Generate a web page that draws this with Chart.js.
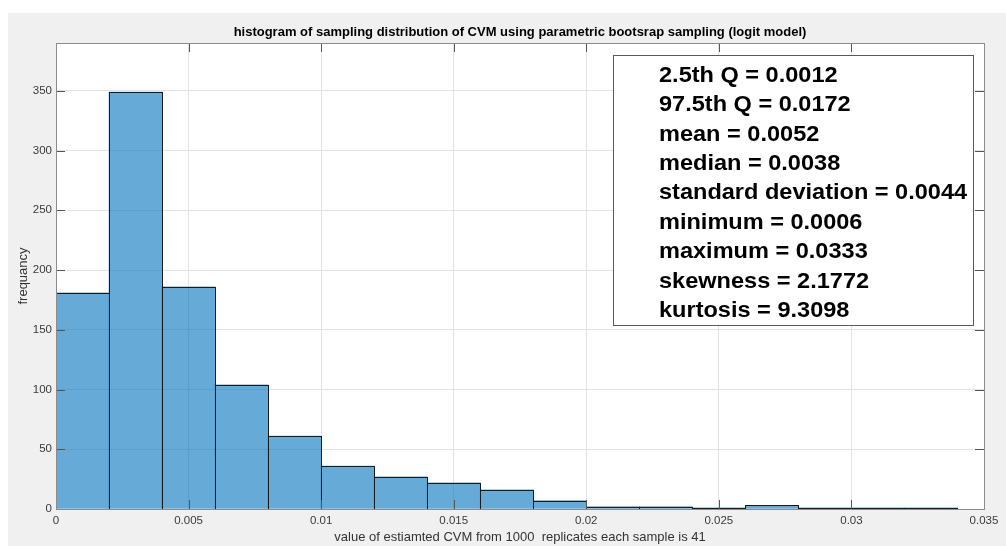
<!DOCTYPE html>
<html>
<head>
<meta charset="utf-8">
<script src="https://cdn.jsdelivr.net/npm/chart.js@4.4.1/dist/chart.umd.min.js"></script>
<style>
  html, body { margin: 0; padding: 0; background: #fff; }
  #wrap { width: 1006px; height: 546px; }
</style>
</head>
<body>
<div id="wrap"><canvas id="hist" width="1006" height="546"></canvas></div>
<script>
// histogram bins (width 0.002) and counts
const binCenters = [0.001, 0.003, 0.005, 0.007, 0.009, 0.011, 0.013, 0.015, 0.017,
                    0.019, 0.021, 0.023, 0.025, 0.027, 0.029, 0.031, 0.033];
const counts = [181, 349, 186, 104, 61, 36, 27, 22, 16, 7, 2, 2, 1, 3, 1, 1, 1];

const xTicks = [0, 0.005, 0.01, 0.015, 0.02, 0.025, 0.03, 0.035];
const xTickLabels = ['0', '0.005', '0.01', '0.015', '0.02', '0.025', '0.03', '0.035'];
const yTicks = [0, 50, 100, 150, 200, 250, 300, 350];

const statLines = [
  '2.5th Q = 0.0012',
  '97.5th Q = 0.0172',
  'mean = 0.0052',
  'median = 0.0038',
  'standard deviation = 0.0044',
  'minimum = 0.0006',
  'maximum = 0.0333',
  'skewness = 2.1772',
  'kurtosis = 9.3098'
];

const FONT = "'Liberation Sans', Arial, Helvetica, sans-serif";

// grey figure background, matlab style box with inward ticks, and the stats text box
const matlabAxes = {
  id: 'matlabAxes',
  beforeDraw(chart) {
    const ctx = chart.ctx;
    ctx.save();
    ctx.fillStyle = '#ffffff';
    ctx.fillRect(0, 0, chart.width, chart.height);
    ctx.fillStyle = '#f0f0f0';
    ctx.fillRect(8, 13, chart.width - 8, chart.height - 13);
    const a = chart.chartArea;
    ctx.fillStyle = '#ffffff';
    ctx.fillRect(a.left, a.top, a.right - a.left, a.bottom - a.top);
    ctx.restore();
  },
  afterDatasetsDraw(chart) {
    const ctx = chart.ctx;
    const a = chart.chartArea;
    const xs = chart.scales.x, ys = chart.scales.y;
    ctx.save();
    ctx.lineWidth = 1;

    // bar edges: chart.js shrinks borders on very short bars, so outline them here
    ctx.strokeStyle = '#1a1a1a';
    chart.getDatasetMeta(0).data.forEach(bar => {
      const l = Math.round(bar.x - bar.width / 2);
      const r = Math.round(bar.x + bar.width / 2);
      const t = Math.round(bar.y);
      const b = Math.round(bar.base);
      ctx.strokeRect(l + 0.5, t + 0.5, r - l, Math.max(b - t, 1));
    });

    ctx.strokeStyle = '#555555';
    ctx.beginPath();
    xTicks.forEach(v => {
      const px = Math.round(xs.getPixelForValue(v)) + 0.5;
      ctx.moveTo(px, a.bottom); ctx.lineTo(px, a.bottom - 9);
      ctx.moveTo(px, a.top); ctx.lineTo(px, a.top + 9);
    });
    yTicks.forEach(v => {
      const py = Math.round(ys.getPixelForValue(v)) + 0.5;
      ctx.moveTo(a.left, py); ctx.lineTo(a.left + 9, py);
      ctx.moveTo(a.right, py); ctx.lineTo(a.right - 9, py);
    });
    ctx.stroke();
    ctx.strokeStyle = '#8c8c8c';
    ctx.strokeRect(Math.round(a.left) + 0.5, Math.round(a.top) + 0.5,
                   Math.round(a.right - a.left), Math.round(a.bottom - a.top));

    // stats annotation box (text is a bit wider than normal in the original)
    const bx = 613, by = 55, bw = 360, bh = 270;
    ctx.fillStyle = '#ffffff';
    ctx.fillRect(bx, by, bw, bh);
    ctx.strokeStyle = '#5a5a5a';
    ctx.strokeRect(bx + 0.5, by + 0.5, bw, bh);
    ctx.fillStyle = '#000000';
    ctx.font = 'bold 22px ' + FONT;
    ctx.textBaseline = 'alphabetic';
    ctx.textAlign = 'left';
    statLines.forEach((t, i) => {
      ctx.save();
      ctx.translate(659, 81.7 + i * 29.4);
      ctx.scale(1.07, 1);
      ctx.fillText(t, 0, 0);
      ctx.restore();
    });
    ctx.restore();
  }
};

new Chart(document.getElementById('hist'), {
  type: 'bar',
  data: {
    datasets: [{
      label: 'frequancy',
      data: binCenters.map((c, i) => ({ x: c, y: counts[i] })),
      backgroundColor: 'rgba(0, 114, 189, 0.6)',
      borderWidth: 0,
      barPercentage: 1,
      categoryPercentage: 1
    }]
  },
  options: {
    responsive: false,
    animation: false,
    layout: { padding: { top: 25, left: 0, right: 22, bottom: 0 } },
    plugins: {
      legend: { display: false },
      tooltip: { enabled: false },
      title: {
        display: true,
        fullSize: false,
        text: 'histogram of sampling distribution of CVM using parametric bootsrap sampling (logit model)',
        color: '#000',
        font: { family: FONT, size: 13, weight: 'bold', lineHeight: 1.2 },
        padding: { top: 0, bottom: 2.4 }
      }
    },
    scales: {
      x: {
        type: 'linear',
        offset: false,
        min: 0,
        max: 0.035,
        afterBuildTicks: s => { s.ticks = xTicks.map(v => ({ value: v })); },
        afterFit: s => { s.height = 37; },
        ticks: {
          callback: (v, i) => xTickLabels[i],
          color: '#3a3a3a',
          font: { family: FONT, size: 11.5 },
          padding: 5,
          maxRotation: 0,
          autoSkip: false
        },
        grid: { color: '#e3e3e3', drawTicks: false, offset: false },
        border: { display: false },
        title: {
          display: true,
          text: 'value of estiamted CVM from 1000  replicates each sample is 41',
          color: '#333',
          font: { family: FONT, size: 13 },
          padding: { top: 0, bottom: 1.2 }
        }
      },
      y: {
        min: 0,
        max: 390,
        afterBuildTicks: s => { s.ticks = yTicks.map(v => ({ value: v })); },
        afterFit: s => { s.width = 56; },
        ticks: {
          color: '#3a3a3a',
          font: { family: FONT, size: 11.5 },
          padding: 4
        },
        grid: { color: '#e3e3e3', drawTicks: false },
        border: { display: false },
        title: {
          display: true,
          text: 'frequancy',
          color: '#333',
          font: { family: FONT, size: 13 },
          padding: { top: 16, bottom: 0 }
        }
      }
    }
  },
  plugins: [matlabAxes]
});
</script>
</body>
</html>
